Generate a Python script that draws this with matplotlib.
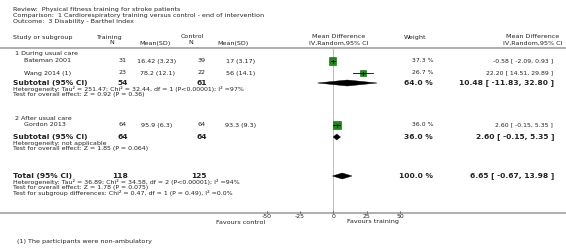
import matplotlib

matplotlib.use("Agg")
import matplotlib.pyplot as plt  # noqa: E402
from matplotlib.patches import Rectangle, Polygon  # noqa: E402

# header info
review = "Review:  Physical fitness training for stroke patients"
comparison = "Comparison:  1 Cardiorespiratory training versus control - end of intervention"
outcome = "Outcome:  3 Disability - Barthel Index"

# subgroups
groups = ["1 During usual care", "2 After usual care"]

# individual studies
studies = ["Bateman 2001", "Wang 2014 (1)", "Gordon 2013"]
train_n = [31, 23, 64]
train_msd = ["16.42 (3.23)", "78.2 (12.1)", "95.9 (6.3)"]
ctrl_n = [39, 22, 64]
ctrl_msd = ["17 (3.17)", "56 (14.1)", "93.3 (9.3)"]
weights = [37.3, 26.7, 36.0]
md = [-0.58, 22.20, 2.60]
md_lo = [-2.09, 14.51, -0.15]
md_hi = [0.93, 29.89, 5.35]

# pooled rows: subtotal 1, subtotal 2, total
pool_labels = ["Subtotal (95% CI)", "Subtotal (95% CI)", "Total (95% CI)"]
pool_train_n = [54, 64, 118]
pool_ctrl_n = [61, 64, 125]
pool_weight = [64.0, 36.0, 100.0]
pool_md = [10.48, 2.60, 6.65]
pool_lo = [-11.83, -0.15, -0.67]
pool_hi = [32.80, 5.35, 13.98]

pool_notes = [
    ["Heterogeneity: Tau\u00b2 = 251.47; Chi\u00b2 = 32.44, df = 1 (P<0.00001); I\u00b2 =97%",
     "Test for overall effect: Z = 0.92 (P = 0.36)"],
    ["Heterogeneity: not applicable",
     "Test for overall effect: Z = 1.85 (P = 0.064)"],
    ["Heterogeneity: Tau\u00b2 = 36.89; Chi\u00b2 = 34.58, df = 2 (P<0.00001); I\u00b2 =94%",
     "Test for overall effect: Z = 1.78 (P = 0.075)",
     "Test for subgroup differences: Chi\u00b2 = 0.47, df = 1 (P = 0.49), I\u00b2 =0.0%"],
]

ticks = [-50, -25, 0, 25, 50]
tick_labels = ["-50", "-25", "0", "25", "50"]
favours = ["Favours control", "Favours training"]
footnote = "(1) The participants were non-ambulatory"

# layout (pixel rows)
W, H = 566, 248
study_y = [61, 73, 125]
group_y = [54, 118]
pool_y = [83, 137, 176]
top_line, axis_line = 48, 213

fig = plt.figure(figsize=(W / 100, H / 100), dpi=100)
ax = fig.add_axes([0, 0, 1, 1])
ax.set_xlim(0, W)
ax.set_ylim(H, 0)
ax.axis("off")

# forest panel: 0 at x=333.3 px, 25 units per 33.3 px
fx0, fx1 = 200, 466.67
fx = fig.add_axes([fx0 / W, 0, (fx1 - fx0) / W, 1])
fx.set_xlim(-100, 100)
fx.set_ylim(H, 0)
fx.axis("off")
fx.patch.set_alpha(0)
px_unit = (fx1 - fx0) / 200

txt = "#222222"
small = 4.6
note_sz = 4.5
tiny = 4.4
boldsz = 5.4

kw = dict(va="center", color=txt)
ax.text(13, 10, review, fontsize=small, **kw)
ax.text(13, 16, comparison, fontsize=small, **kw)
ax.text(13, 22, outcome, fontsize=small, **kw)

# column headers
ax.text(13, 37, "Study or subgroup", fontsize=small, **kw)
ax.text(109, 37, "Training", fontsize=small, ha="center", **kw)
ax.text(112, 43, "N", fontsize=small, ha="center", **kw)
ax.text(155, 43, "Mean(SD)", fontsize=small, ha="center", **kw)
ax.text(192, 37, "Control", fontsize=small, ha="center", **kw)
ax.text(191, 43, "N", fontsize=small, ha="center", **kw)
ax.text(233, 43, "Mean(SD)", fontsize=small, ha="center", **kw)
ax.text(339, 37, "Mean Difference", fontsize=small, ha="center", **kw)
ax.text(339, 43, "IV,Random,95% CI", fontsize=small, ha="center", **kw)
ax.text(415, 37, "Weight", fontsize=small, ha="center", **kw)
ax.text(533, 37, "Mean Difference", fontsize=small, ha="center", **kw)
ax.text(533, 43, "IV,Random,95% CI", fontsize=small, ha="center", **kw)

ax.plot([0, W], [top_line, top_line], color="#a8a8a8", lw=1.3)
ax.plot([0, W], [axis_line, axis_line], color="#a8a8a8", lw=1.3)

for g, y in zip(groups, group_y):
    ax.text(15, y, g, fontsize=small, **kw)

# study rows
for i, y in enumerate(study_y):
    ax.text(24, y, studies[i], fontsize=small, **kw)
    ax.text(127, y, str(train_n[i]), fontsize=small, ha="right", **kw)
    ax.text(157, y, train_msd[i], fontsize=small, ha="center", **kw)
    ax.text(206, y, str(ctrl_n[i]), fontsize=small, ha="right", **kw)
    ax.text(241, y, ctrl_msd[i], fontsize=small, ha="center", **kw)
    ax.text(433, y, f"{weights[i]:.1f} %", fontsize=tiny, ha="right", **kw)
    ax.text(553, y, f"{md[i]:.2f} [ {md_lo[i]:.2f}, {md_hi[i]:.2f} ]",
            fontsize=tiny, ha="right", **kw)
    side = weights[i] * 0.21
    fx.add_patch(Rectangle((md[i] - side / px_unit / 2, y - side / 2),
                           side / px_unit, side,
                           facecolor="#1a8a1a", edgecolor="#0b600b", lw=0.4, zorder=3))
    fx.plot([md_lo[i], md_hi[i]], [y, y], color="black", lw=0.6, zorder=4)
    fx.plot([md[i], md[i]], [y - 1.5, y + 1.5], color="black", lw=0.6, zorder=4)

# pooled rows
for i, y in enumerate(pool_y):
    ax.text(13, y, pool_labels[i], fontsize=boldsz, fontweight="bold", **kw)
    ax.text(128, y, str(pool_train_n[i]), fontsize=boldsz, fontweight="bold", ha="right", **kw)
    ax.text(207, y, str(pool_ctrl_n[i]), fontsize=boldsz, fontweight="bold", ha="right", **kw)
    ax.text(433, y, f"{pool_weight[i]:.1f} %", fontsize=boldsz, fontweight="bold", ha="right", **kw)
    ax.text(554, y, f"{pool_md[i]:.2f} [ {pool_lo[i]:.2f}, {pool_hi[i]:.2f} ]",
            fontsize=boldsz, fontweight="bold", ha="right", **kw)
    fx.add_patch(Polygon([(pool_lo[i], y), (pool_md[i], y - 3),
                          (pool_hi[i], y), (pool_md[i], y + 3)],
                         closed=True, facecolor="black", edgecolor="black", lw=0.3, zorder=3))
    for j, note in enumerate(pool_notes[i]):
        ax.text(13, y + 6 + j * 5.6, note, fontsize=note_sz, **kw)

# zero line and axis
fx.plot([0, 0], [top_line, axis_line], color="#b0b0b0", lw=0.6, zorder=1)
for t, lab in zip(ticks, tick_labels):
    fx.plot([t, t], [axis_line - 2, axis_line], color="#555555", lw=0.5)
    fx.text(t, axis_line + 4, lab, fontsize=tiny, ha="center", va="center", color=txt)
ax.text(241, 222, favours[0], fontsize=small, ha="center", **kw)
ax.text(373, 222, favours[1], fontsize=small, ha="center", **kw)

ax.text(17, 241, footnote, fontsize=small, **kw)

fig.savefig("out.png", dpi=100)
plt.close(fig)
